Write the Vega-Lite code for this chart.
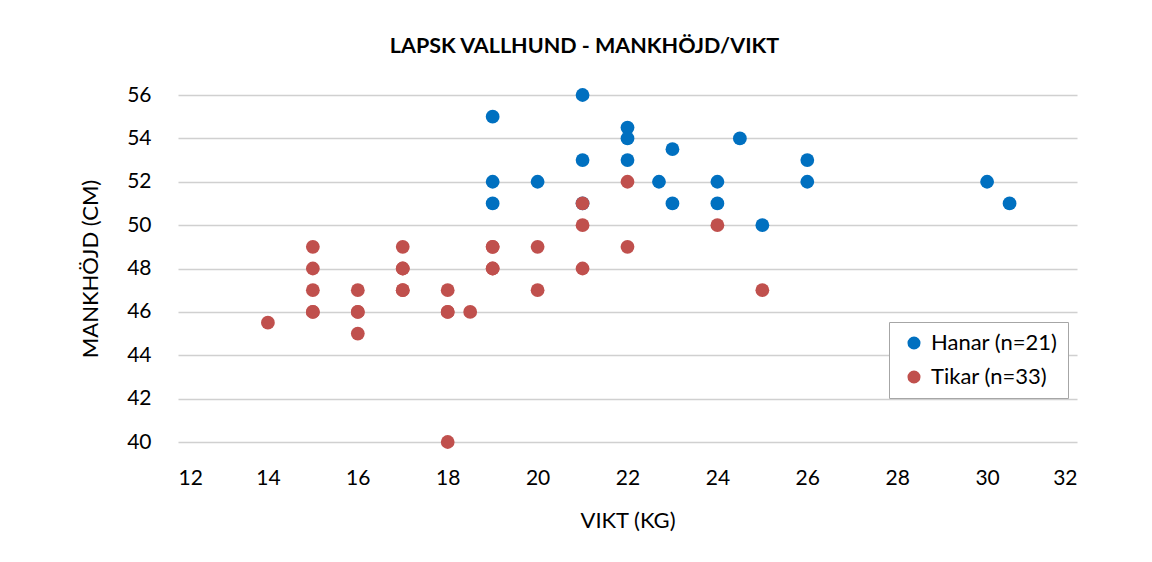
{
  "$schema": "https://vega.github.io/schema/vega-lite/v6.json",
  "autosize": "none",
  "width": 899,
  "height": 347,
  "padding": {"left": 178, "top": 95, "right": 75, "bottom": 120},
  "background": "white",
  "title": {
    "text": "LAPSK VALLHUND - MANKHÖJD/VIKT",
    "font": "Lato",
    "fontSize": 21.5,
    "fontWeight": "bold",
    "color": "#000000",
    "anchor": "middle",
    "frame": "group",
    "dx": -43,
    "offset": 27
  },
  "data": {
    "values": [
      {"vikt": 19, "mankhojd": 55, "grupp": "Hanar (n=21)"},
      {"vikt": 19, "mankhojd": 52, "grupp": "Hanar (n=21)"},
      {"vikt": 19, "mankhojd": 51, "grupp": "Hanar (n=21)"},
      {"vikt": 20, "mankhojd": 52, "grupp": "Hanar (n=21)"},
      {"vikt": 21, "mankhojd": 56, "grupp": "Hanar (n=21)"},
      {"vikt": 21, "mankhojd": 53, "grupp": "Hanar (n=21)"},
      {"vikt": 21, "mankhojd": 51, "grupp": "Hanar (n=21)"},
      {"vikt": 22, "mankhojd": 54.5, "grupp": "Hanar (n=21)"},
      {"vikt": 22, "mankhojd": 54, "grupp": "Hanar (n=21)"},
      {"vikt": 22, "mankhojd": 53, "grupp": "Hanar (n=21)"},
      {"vikt": 22.7, "mankhojd": 52, "grupp": "Hanar (n=21)"},
      {"vikt": 23, "mankhojd": 53.5, "grupp": "Hanar (n=21)"},
      {"vikt": 23, "mankhojd": 51, "grupp": "Hanar (n=21)"},
      {"vikt": 24, "mankhojd": 52, "grupp": "Hanar (n=21)"},
      {"vikt": 24, "mankhojd": 51, "grupp": "Hanar (n=21)"},
      {"vikt": 24.5, "mankhojd": 54, "grupp": "Hanar (n=21)"},
      {"vikt": 25, "mankhojd": 50, "grupp": "Hanar (n=21)"},
      {"vikt": 26, "mankhojd": 53, "grupp": "Hanar (n=21)"},
      {"vikt": 26, "mankhojd": 52, "grupp": "Hanar (n=21)"},
      {"vikt": 30, "mankhojd": 52, "grupp": "Hanar (n=21)"},
      {"vikt": 30.5, "mankhojd": 51, "grupp": "Hanar (n=21)"},
      {"vikt": 14, "mankhojd": 45.5, "grupp": "Tikar (n=33)"},
      {"vikt": 15, "mankhojd": 49, "grupp": "Tikar (n=33)"},
      {"vikt": 15, "mankhojd": 48, "grupp": "Tikar (n=33)"},
      {"vikt": 15, "mankhojd": 47, "grupp": "Tikar (n=33)"},
      {"vikt": 15, "mankhojd": 46, "grupp": "Tikar (n=33)"},
      {"vikt": 15, "mankhojd": 46, "grupp": "Tikar (n=33)"},
      {"vikt": 16, "mankhojd": 47, "grupp": "Tikar (n=33)"},
      {"vikt": 16, "mankhojd": 46, "grupp": "Tikar (n=33)"},
      {"vikt": 16, "mankhojd": 46, "grupp": "Tikar (n=33)"},
      {"vikt": 16, "mankhojd": 45, "grupp": "Tikar (n=33)"},
      {"vikt": 17, "mankhojd": 49, "grupp": "Tikar (n=33)"},
      {"vikt": 17, "mankhojd": 48, "grupp": "Tikar (n=33)"},
      {"vikt": 17, "mankhojd": 48, "grupp": "Tikar (n=33)"},
      {"vikt": 17, "mankhojd": 47, "grupp": "Tikar (n=33)"},
      {"vikt": 17, "mankhojd": 47, "grupp": "Tikar (n=33)"},
      {"vikt": 18, "mankhojd": 47, "grupp": "Tikar (n=33)"},
      {"vikt": 18, "mankhojd": 46, "grupp": "Tikar (n=33)"},
      {"vikt": 18, "mankhojd": 46, "grupp": "Tikar (n=33)"},
      {"vikt": 18, "mankhojd": 40, "grupp": "Tikar (n=33)"},
      {"vikt": 18.5, "mankhojd": 46, "grupp": "Tikar (n=33)"},
      {"vikt": 19, "mankhojd": 49, "grupp": "Tikar (n=33)"},
      {"vikt": 19, "mankhojd": 49, "grupp": "Tikar (n=33)"},
      {"vikt": 19, "mankhojd": 48, "grupp": "Tikar (n=33)"},
      {"vikt": 19, "mankhojd": 48, "grupp": "Tikar (n=33)"},
      {"vikt": 20, "mankhojd": 49, "grupp": "Tikar (n=33)"},
      {"vikt": 20, "mankhojd": 47, "grupp": "Tikar (n=33)"},
      {"vikt": 21, "mankhojd": 51, "grupp": "Tikar (n=33)"},
      {"vikt": 21, "mankhojd": 50, "grupp": "Tikar (n=33)"},
      {"vikt": 21, "mankhojd": 48, "grupp": "Tikar (n=33)"},
      {"vikt": 22, "mankhojd": 52, "grupp": "Tikar (n=33)"},
      {"vikt": 22, "mankhojd": 49, "grupp": "Tikar (n=33)"},
      {"vikt": 24, "mankhojd": 50, "grupp": "Tikar (n=33)"},
      {"vikt": 25, "mankhojd": 47, "grupp": "Tikar (n=33)"}
    ]
  },
  "mark": {"type": "circle", "size": 190, "opacity": 1},
  "encoding": {
    "x": {
      "field": "vikt",
      "type": "quantitative",
      "title": "VIKT (KG)",
      "scale": {"domain": [12, 32], "nice": false, "zero": false},
      "axis": {
        "values": [12, 14, 16, 18, 20, 22, 24, 26, 28, 30, 32],
        "grid": false,
        "domain": false,
        "ticks": false,
        "labelPadding": 25,
        "titlePadding": 22
      }
    },
    "y": {
      "field": "mankhojd",
      "type": "quantitative",
      "title": "MANKHÖJD (CM)",
      "scale": {"domain": [40, 56], "nice": false, "zero": false},
      "axis": {
        "values": [40, 42, 44, 46, 48, 50, 52, 54, 56],
        "grid": true,
        "gridColor": "#d0d0d0",
        "gridWidth": 1.5,
        "domain": false,
        "ticks": false,
        "labelPadding": 27,
        "titlePadding": 24
      }
    },
    "color": {
      "field": "grupp",
      "type": "nominal",
      "scale": {"domain": ["Hanar (n=21)", "Tikar (n=33)"], "range": ["#0070C0", "#C0504D"]},
      "legend": {
        "title": null,
        "orient": "none",
        "legendX": 711,
        "legendY": 227,
        "symbolType": "circle",
        "symbolSize": 170,
        "labelFontSize": 22,
        "labelFont": "Lato",
        "labelColor": "#000000",
        "strokeColor": "#a6a6a6",
        "fillColor": "white",
        "padding": 10,
        "rowPadding": 12,
        "symbolOffset": 4,
        "labelOffset": 6,
        "labelLimit": 300
      }
    }
  },
  "config": {
    "view": {"stroke": null},
    "axis": {
      "labelFont": "Lato",
      "labelFontSize": 21,
      "labelColor": "#000000",
      "titleFont": "Lato",
      "titleFontSize": 22,
      "titleFontWeight": "normal",
      "titleColor": "#000000"
    }
  }
}
